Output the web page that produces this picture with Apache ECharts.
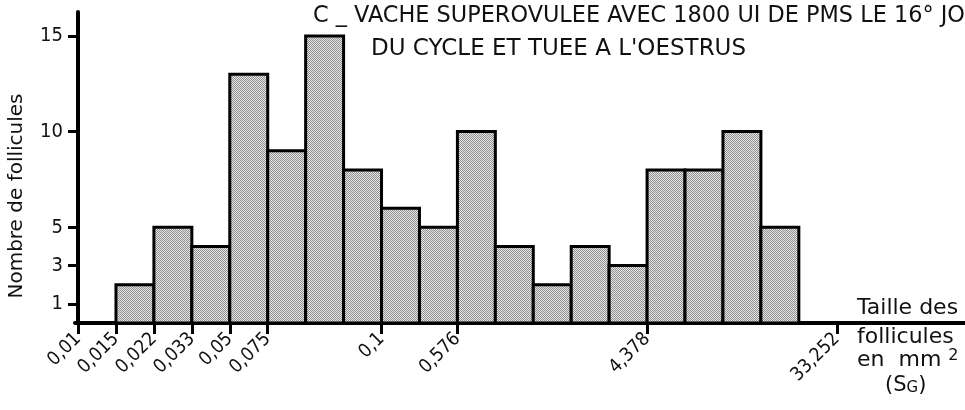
<!DOCTYPE html>
<html>
<head>
<meta charset="utf-8">
<script src="https://cdn.jsdelivr.net/npm/echarts@6/dist/echarts.min.js"></script>
<style>
  html, body { margin: 0; padding: 0; background: #fff; }
  #chart { width: 965px; height: 410px; }
</style>
</head>
<body>
<div id="chart"></div>
<script>
// bins are indexed by edge number; bin k spans edge k to edge k+1
const binStart = [1, 2, 3, 4, 5, 6, 7, 8, 9, 10, 11, 12, 13, 14, 15, 16, 17, 18];
const counts = [2, 5, 4, 13, 9, 15, 8, 6, 5, 10, 4, 2, 4, 3, 8, 8, 10, 5];
const edgeTicks = [0, 1, 2, 3, 4, 5, 8, 10, 15, 20];
const edgeLabels = ['0,01', '0,015', '0,022', '0,033', '0,05', '0,075', '0,1', '0,576', '4,378', '33,252'];
const yTicks = [1, 3, 5, 10, 15];

const titleLine1 = 'C _ VACHE SUPEROVULEE AVEC 1800 UI DE PMS LE 16° JO';
const titleLine2 = "DU CYCLE ET TUEE A L'OESTRUS";

const FONT = 'DejaVu Sans, sans-serif';
const NUMFONT = 'DejaVu Sans Condensed, DejaVu Sans, sans-serif';

// stipple fill like the printed screen
const pat = document.createElement('canvas');
pat.width = 2; pat.height = 2;
const pc = pat.getContext('2d');
pc.fillStyle = '#e6e6e6'; pc.fillRect(0, 0, 2, 2);
pc.fillStyle = '#909090'; pc.fillRect(0, 0, 1, 1); pc.fillRect(1, 1, 1, 1);

const chart = echarts.init(document.getElementById('chart'), null, { renderer: 'canvas' });

chart.setOption({
  animation: false,
  title: [
    { text: titleLine1, left: 308, top: 0, textStyle: { fontFamily: FONT, fontSize: 22.4, fontWeight: 'normal', color: '#111' } },
    { text: titleLine2, left: 366, top: 33, textStyle: { fontFamily: FONT, fontSize: 23, fontWeight: 'normal', color: '#111' } }
  ],
  grid: { left: 75, right: 0, top: 12, bottom: 87 },
  xAxis: {
    type: 'value',
    min: -0.08,
    max: 23.38,
    axisLine: { lineStyle: { color: '#000', width: 4 } },
    axisTick: { customValues: edgeTicks, length: 11, lineStyle: { color: '#000', width: 3 } },
    axisLabel: {
      customValues: edgeTicks,
      formatter: v => edgeLabels[edgeTicks.indexOf(v)] || '',
      rotate: 45,
      margin: 13,
      fontFamily: NUMFONT,
      fontSize: 19,
      color: '#111'
    },
    splitLine: { show: false }
  },
  yAxis: {
    type: 'value',
    min: 0,
    max: 16.25,
    axisLine: { show: true, lineStyle: { color: '#000', width: 4 } },
    axisTick: { customValues: yTicks, length: 10, lineStyle: { color: '#000', width: 3 } },
    axisLabel: { customValues: yTicks, margin: 12, fontFamily: NUMFONT, fontSize: 20, color: '#111' },
    splitLine: { show: false }
  },
  graphic: [
    { type: 'text', x: 17, y: 196, rotation: Math.PI / 2,
      style: { text: 'Nombre de follicules', font: '20px ' + FONT, fill: '#111', align: 'center', verticalAlign: 'middle' } },
    { type: 'text', left: 857, top: 297, style: { text: 'Taille des', font: '22px ' + FONT, fill: '#111' } },
    { type: 'text', left: 857, top: 326, style: { text: 'follicules', font: '22px ' + FONT, fill: '#111' } },
    { type: 'text', left: 857, top: 348, style: {
        text: 'en  mm {s|2}', font: '22px ' + FONT, fill: '#111',
        rich: { s: { fontSize: 16, fontFamily: FONT, verticalAlign: 'top', padding: [0, 0, 8, 0] } } } },
    { type: 'text', left: 885, top: 375, style: {
        text: '(S{g|G})', font: '21px ' + FONT, fill: '#111',
        rich: { g: { fontSize: 15, fontFamily: FONT, padding: [6, 0, 0, 0] } } } }
  ],
  series: [{
    type: 'custom',
    data: binStart.map((k, i) => [k, counts[i]]),
    renderItem: function (params, api) {
      const k = api.value(0);
      const topLeft = api.coord([k, api.value(1)]);
      const bottomRight = api.coord([k + 1, 0]);
      return {
        type: 'rect',
        shape: {
          x: topLeft[0],
          y: topLeft[1],
          width: bottomRight[0] - topLeft[0],
          height: bottomRight[1] - topLeft[1]
        },
        style: { fill: { image: pat, repeat: 'repeat' }, stroke: '#000', lineWidth: 3 }
      };
    }
  }]
});
</script>
</body>
</html>
